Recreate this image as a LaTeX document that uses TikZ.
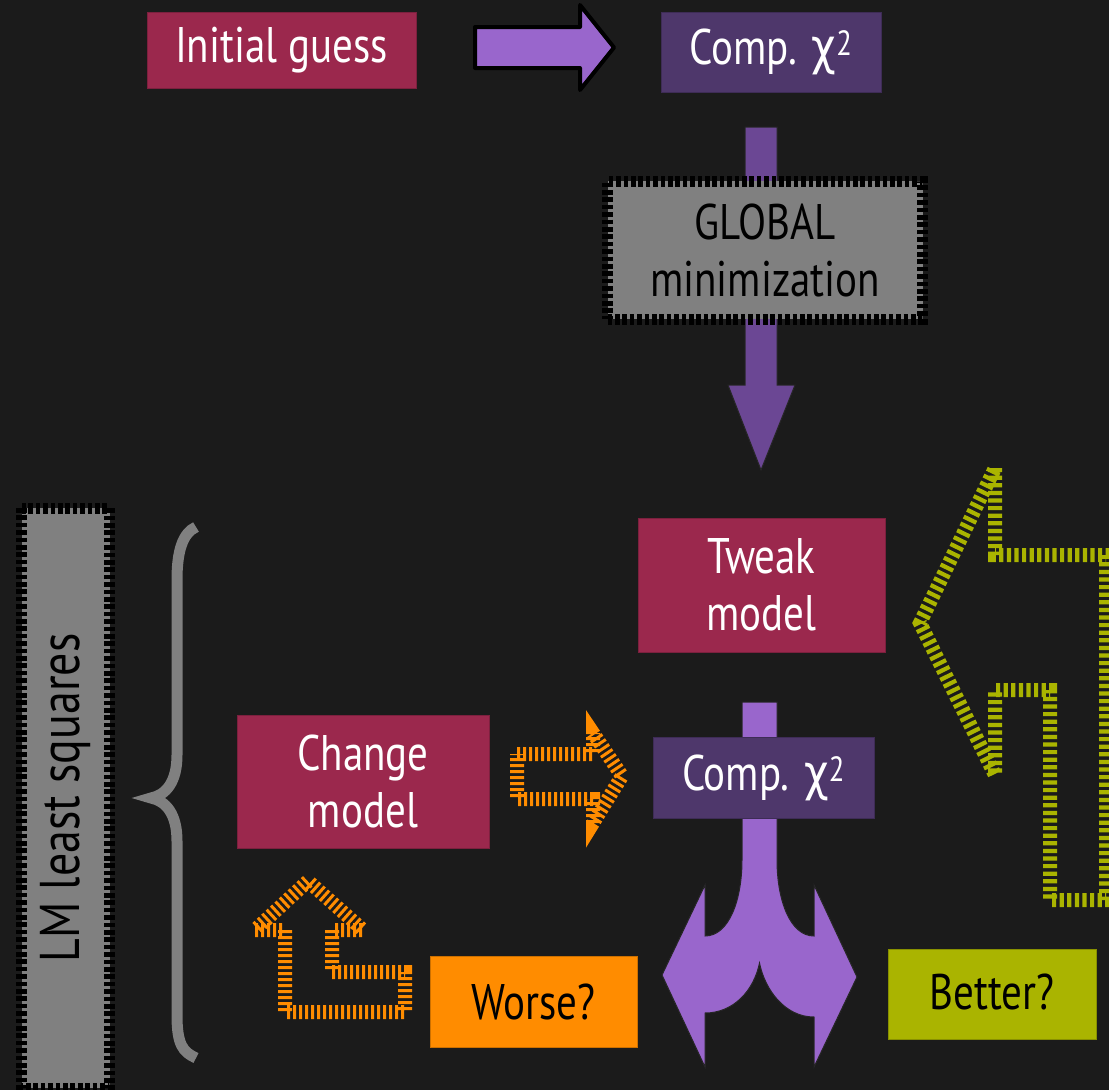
\documentclass[tikz,border=0pt]{standalone}
\usepackage{fontspec}
\setmainfont[FakeStretch=0.82]{PT Sans}
\newfontfamily\gk[FakeStretch=0.85]{DejaVu Sans}
\definecolor{bg}{HTML}{1B1B1B}
\definecolor{crim}{HTML}{9B284D}
\definecolor{dpurp}{HTML}{4E376B}
\definecolor{lpurp}{HTML}{9966CC}
\definecolor{mpurp}{HTML}{6B4794}
\definecolor{grey}{HTML}{808080}
\definecolor{orng}{HTML}{FF8C00}
\definecolor{olive}{HTML}{AAB400}
\newcommand{\chisq}{{\gk χ}\textsuperscript{2}}
\tikzset{
  txt/.style={font=\fontsize{50}{57}\selectfont, align=center, inner sep=0pt},
  crimbox/.style={txt, fill=crim, draw=crim!80!black, line width=1pt, text=white},
  purpbox/.style={txt, fill=dpurp, draw=dpurp!80!black, line width=1pt, text=white},
  graybox/.style={txt, fill=grey, draw=black, line width=11pt, dash pattern=on 4.6pt off 2.8pt, text=black},
  orbox/.style={txt, fill=orng, draw=orng!80!black, line width=1pt, text=black},
  olbox/.style={txt, fill=olive, draw=olive!80!black, line width=1pt, text=black},
  fatarrow/.style={fill=lpurp, draw=black, line width=4pt, line join=round},
  downarrow/.style={fill=mpurp, draw=black!85, line width=1pt},
  forkarrow/.style={fill=lpurp, draw=black!85, line width=1pt},
  orline/.style={draw=orng, line width=14pt, dash pattern=on 3pt off 3pt},
  olline/.style={draw=olive, line width=14pt, dash pattern=on 4.2pt off 3.4pt},
  bracestyle/.style={draw=grey, line width=11pt}
}
\begin{document}
\begin{tikzpicture}[x=1pt,y=-1pt]
\fill[bg] (0,0) rectangle (1109,1090);
\useasboundingbox (0,0) rectangle (1109,1090);
\clip (0,0) rectangle (1109,1090);

% block arrows (drawn below the boxes)
\draw[fatarrow] (475,27) -- (580,27) -- (580,5) -- (614,47.5) -- (580,90) -- (580,68) -- (475,68) -- cycle;
\draw[downarrow] (745,127) -- (777,127) -- (777,385) -- (795,385) -- (761,470) -- (728,385) -- (745,385) -- cycle;
\draw[forkarrow] (742,702) -- (777,702) -- (777,860)
  .. controls (777,900) and (790,936) .. (814,936) -- (814,885) -- (857,977) -- (814,1067) -- (814,1017)
  .. controls (785,1017) and (765,990) .. (759.5,963)
  .. controls (754,990) and (734,1013) .. (705,1013) -- (705,1067) -- (662,975) -- (705,885) -- (705,936)
  .. controls (729,936) and (742,900) .. (742,860) -- cycle;

% boxes
\node[crimbox, minimum width=269, minimum height=76] (init) at (281.5,50) {Initial guess};
\node[purpbox, minimum width=220, minimum height=80] (comp1) at (771,52) {Comp. \chisq};
\node[graybox, minimum width=315, minimum height=138] (glob) at (765,250) {GLOBAL\\minimization};
\node[crimbox, minimum width=247, minimum height=134] (tweak) at (761.5,585) {Tweak\\model};
\node[crimbox, minimum width=252, minimum height=133] (change) at (363,781.5) {Change\\model};
\node[purpbox, minimum width=221, minimum height=81] (comp2) at (763.5,777.5) {Comp. \chisq};
\node[orbox, minimum width=207, minimum height=91] (worse) at (533.5,1001.5) {Worse?};
\node[olbox, minimum width=208, minimum height=90] (better) at (992,994) {\raisebox{4pt}{Better?}};
\node[graybox, rotate=90, minimum width=580, minimum height=88, font=\fontsize{56}{60}\selectfont] (lm) at (65.5,798) {LM least squares};

% brace
\draw[bracestyle] (196,527) .. controls (183,533) and (177,550) .. (177,580) -- (177,755)
  .. controls (177,782) and (166,795) .. (151,798)
  .. controls (166,801) and (177,814) .. (177,841) -- (177,1015)
  .. controls (177,1045) and (183,1052) .. (196,1058);

% orange outlined arrows
\draw[orline] (517,754) -- (593,754) -- (593,733) -- (622,776) -- (593,823) -- (593,799) -- (517,799) -- cycle;
\draw[orline] (285,930) -- (285,1012) -- (405,1012) -- (405,972) -- (332,972) -- (332,930) -- (363,930) -- (308,881) -- (255,930) -- cycle;

% olive outlined U-turn arrow
\draw[olline] (995,468) -- (995,555) -- (1106,555) -- (1106,900) -- (1050,900) -- (1050,690) -- (995,690) -- (995,775) -- (920,623) -- cycle;
\end{tikzpicture}
\end{document}
